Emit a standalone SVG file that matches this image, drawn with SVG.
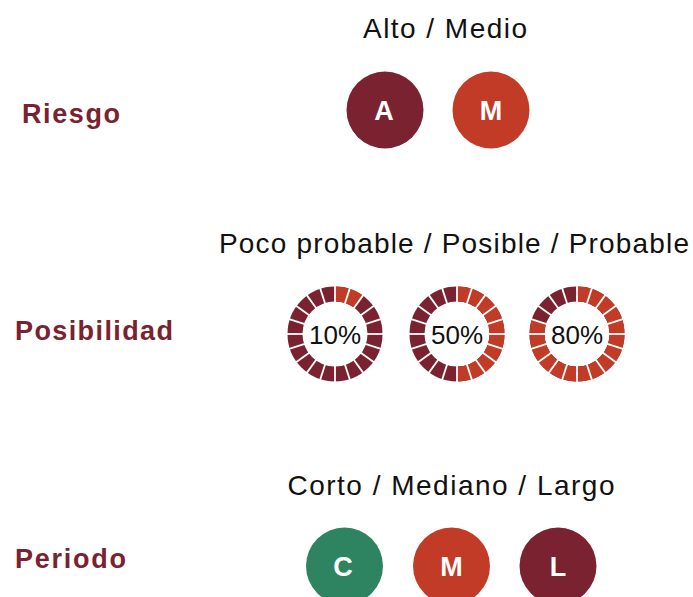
<svg xmlns="http://www.w3.org/2000/svg" width="693" height="597" viewBox="0 0 693 597">
<style>
.hdr{font-family:"Liberation Sans",Arial,sans-serif;font-size:28px;fill:#111;text-anchor:middle}
.lbl{font-family:"Liberation Sans",Arial,sans-serif;font-weight:bold;font-size:27px;fill:#7A2230}
.let{font-family:"Liberation Sans",Arial,sans-serif;font-weight:bold;font-size:27px;fill:#fff;text-anchor:middle}
.pct{font-family:"Liberation Sans",Arial,sans-serif;font-size:26px;fill:#111;text-anchor:middle}
.dark{fill:#7A2230}.orange{fill:#C23B26}.green{fill:#2E8360}
.ringd{fill:none;stroke:#7A2230;stroke-width:15}
.ringo{fill:none;stroke:#C23B26;stroke-width:15}
.tick{stroke:#fff;stroke-width:1.8}
</style>
<defs>
<g id="ticks">
<line class="tick" x1="0" y1="-31" x2="0" y2="-49"/>
<line class="tick" x1="0" y1="-31" x2="0" y2="-49" transform="rotate(18)"/>
<line class="tick" x1="0" y1="-31" x2="0" y2="-49" transform="rotate(36)"/>
<line class="tick" x1="0" y1="-31" x2="0" y2="-49" transform="rotate(54)"/>
<line class="tick" x1="0" y1="-31" x2="0" y2="-49" transform="rotate(72)"/>
<line class="tick" x1="0" y1="-31" x2="0" y2="-49" transform="rotate(90)"/>
<line class="tick" x1="0" y1="-31" x2="0" y2="-49" transform="rotate(108)"/>
<line class="tick" x1="0" y1="-31" x2="0" y2="-49" transform="rotate(126)"/>
<line class="tick" x1="0" y1="-31" x2="0" y2="-49" transform="rotate(144)"/>
<line class="tick" x1="0" y1="-31" x2="0" y2="-49" transform="rotate(162)"/>
<line class="tick" x1="0" y1="-31" x2="0" y2="-49" transform="rotate(180)"/>
<line class="tick" x1="0" y1="-31" x2="0" y2="-49" transform="rotate(198)"/>
<line class="tick" x1="0" y1="-31" x2="0" y2="-49" transform="rotate(216)"/>
<line class="tick" x1="0" y1="-31" x2="0" y2="-49" transform="rotate(234)"/>
<line class="tick" x1="0" y1="-31" x2="0" y2="-49" transform="rotate(252)"/>
<line class="tick" x1="0" y1="-31" x2="0" y2="-49" transform="rotate(270)"/>
<line class="tick" x1="0" y1="-31" x2="0" y2="-49" transform="rotate(288)"/>
<line class="tick" x1="0" y1="-31" x2="0" y2="-49" transform="rotate(306)"/>
<line class="tick" x1="0" y1="-31" x2="0" y2="-49" transform="rotate(324)"/>
<line class="tick" x1="0" y1="-31" x2="0" y2="-49" transform="rotate(342)"/>
</g>
</defs>
<rect width="693" height="597" fill="#fff"/>
<g id="labels">
<text class="lbl" x="22" y="123" textLength="98" lengthAdjust="spacing">Riesgo</text>
<text class="lbl" x="15" y="340" textLength="158" lengthAdjust="spacing">Posibilidad</text>
<text class="lbl" x="15" y="568" textLength="111" lengthAdjust="spacing">Periodo</text>
</g>
<g id="headers">
<text class="hdr" x="445" y="38" textLength="164" lengthAdjust="spacing">Alto / Medio</text>
<text class="hdr" x="454" y="253" textLength="470" lengthAdjust="spacing">Poco probable / Posible / Probable</text>
<text class="hdr" x="451" y="495" textLength="327" lengthAdjust="spacing">Corto / Mediano / Largo</text>
</g>
<g id="riesgo-alto"><circle class="dark" cx="385" cy="110" r="38.5"/><text class="let" x="384" y="120">A</text></g>
<g id="riesgo-medio"><circle class="orange" cx="491" cy="110" r="38.5"/><text class="let" x="491" y="120">M</text></g>
<g id="pos-10" transform="translate(335,334)">
<circle class="ringd" r="40"/>
<circle class="ringo" r="40" transform="rotate(-90)" stroke-dasharray="25.13 300"/>
<use href="#ticks"/>
<text class="pct" x="0" y="10">10%</text>
</g>
<g id="pos-50" transform="translate(457,334)">
<circle class="ringd" r="40"/>
<circle class="ringo" r="40" transform="rotate(-90)" stroke-dasharray="125.66 300"/>
<use href="#ticks"/>
<text class="pct" x="0" y="10">50%</text>
</g>
<g id="pos-80" transform="translate(577,334)">
<circle class="ringd" r="40"/>
<circle class="ringo" r="40" transform="rotate(-90)" stroke-dasharray="201.06 300"/>
<use href="#ticks"/>
<text class="pct" x="0" y="10">80%</text>
</g>
<g id="periodo-corto"><circle class="green" cx="344.5" cy="566" r="38.5"/><text class="let" x="343" y="576">C</text></g>
<g id="periodo-mediano"><circle class="orange" cx="451.5" cy="566" r="38.5"/><text class="let" x="451.5" y="576">M</text></g>
<g id="periodo-largo"><circle class="dark" cx="558" cy="566" r="38.5"/><text class="let" x="558" y="576">L</text></g>
</svg>
